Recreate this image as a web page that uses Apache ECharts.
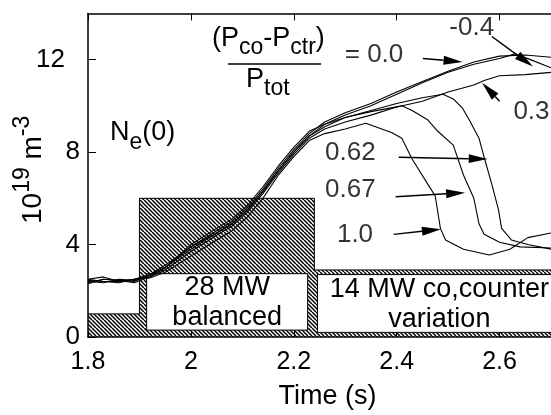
<!DOCTYPE html>
<html>
<head>
<meta charset="UTF-8">
<title>Ne(0) vs time</title>
<script src="https://cdn.jsdelivr.net/npm/echarts@6/dist/echarts.min.js"></script>
<style>
    html, body { margin: 0; padding: 0; background: #fff; }
    #chart { width: 551px; height: 415px; }
</style>
</head>
<body>
<div id="chart"></div>
<script>
    var FONT = "'Liberation Sans', Arial, Helvetica, sans-serif";

    // beam power trace (outline of the hatched area), [t, value]
    var powerStep = [[1.8, 1.0], [1.9, 1.0], [1.9, 6.0], [2.24, 6.0], [2.24, 2.9], [2.7, 2.9]];
    // white boxes inside the power trace: [t0, y0, t1, y1, text]
    var boxes = [
        [1.914, 0.3, 2.227, 2.74, '28 MW\nbalanced'],
        [2.246, 0.2, 2.72, 2.7, '14 MW co,counter\nvariation']
    ];

    // central density Ne(0), one curve per (Pco-Pctr)/Ptot
    var neM04 = [[1.80,2.3],[1.83,2.5],[1.86,2.45],[1.89,2.35],[1.92,2.6],[1.95,3.0],[2.00,3.8],[2.05,4.5],[2.08,4.9],[2.11,5.5],[2.14,6.3],[2.17,7.2],[2.20,8.0],[2.23,8.7],[2.26,9.2],[2.30,9.6],[2.35,10.0],[2.40,10.5],[2.45,11.0],[2.50,11.45],[2.55,11.8],[2.60,12.05],[2.63,12.25],[2.66,12.0],[2.70,11.65]];
    var ne00 = [[1.80,2.5],[1.83,2.6],[1.86,2.4],[1.89,2.5],[1.92,2.7],[1.95,3.1],[2.00,3.9],[2.05,4.6],[2.08,5.0],[2.11,5.6],[2.14,6.4],[2.17,7.3],[2.20,8.1],[2.23,8.8],[2.26,9.3],[2.30,9.7],[2.35,10.1],[2.40,10.6],[2.45,11.05],[2.50,11.5],[2.55,11.9],[2.60,12.15],[2.65,12.2],[2.70,12.1]];
    var ne03 = [[1.80,2.4],[1.83,2.35],[1.86,2.5],[1.89,2.45],[1.92,2.6],[1.95,2.9],[2.00,3.7],[2.05,4.4],[2.08,4.8],[2.11,5.4],[2.14,6.2],[2.17,7.1],[2.20,7.9],[2.23,8.6],[2.26,9.0],[2.30,9.3],[2.35,9.6],[2.40,9.95],[2.45,10.2],[2.50,10.6],[2.55,10.9],[2.57,11.1],[2.60,11.3],[2.65,11.35],[2.70,11.45]];
    var ne062 = [[1.80,2.45],[1.83,2.4],[1.86,2.35],[1.89,2.5],[1.92,2.65],[1.95,3.0],[2.00,3.9],[2.05,4.5],[2.08,4.9],[2.11,5.5],[2.14,6.3],[2.17,7.2],[2.20,8.0],[2.23,8.7],[2.26,9.1],[2.30,9.5],[2.35,9.8],[2.40,10.1],[2.45,10.35],[2.49,10.5],[2.51,10.3],[2.528,9.9],[2.541,9.4],[2.56,8.6],[2.571,7.7],[2.585,6.6],[2.598,5.5],[2.604,4.7],[2.623,4.2],[2.655,4.0],[2.70,3.8]];
    var ne067 = [[1.80,2.35],[1.83,2.5],[1.86,2.45],[1.89,2.4],[1.92,2.7],[1.95,3.0],[2.00,4.0],[2.05,4.7],[2.08,5.1],[2.11,5.7],[2.14,6.5],[2.17,7.4],[2.20,8.2],[2.23,8.9],[2.26,9.2],[2.30,9.5],[2.35,9.75],[2.41,10.0],[2.43,9.8],[2.46,9.4],[2.48,8.9],[2.51,8.3],[2.53,7.0],[2.55,6.0],[2.56,4.9],[2.57,4.45],[2.60,4.1],[2.64,3.9],[2.70,3.85]];
    var ne10 = [[1.80,2.5],[1.83,2.4],[1.86,2.4],[1.89,2.5],[1.92,2.55],[1.95,2.8],[2.00,3.5],[2.05,4.2],[2.08,4.6],[2.11,5.2],[2.14,6.0],[2.17,7.0],[2.20,7.8],[2.23,8.5],[2.26,8.8],[2.30,9.0],[2.34,9.25],[2.39,8.85],[2.41,8.6],[2.43,7.7],[2.465,6.45],[2.475,6.1],[2.485,4.7],[2.495,4.2],[2.53,3.8],[2.58,3.55],[2.62,3.8],[2.655,4.3],[2.70,4.5]];

    // arrows: [t0, y0, t1 (tip), y1 (tip)]
    var arrows = [
        [2.451, 12.05, 2.528, 11.9],
        [2.585, 13.0, 2.665, 11.7],
        [2.600, 10.2, 2.566, 11.0],
        [2.404, 7.78, 2.577, 7.7],
        [2.398, 6.07, 2.533, 6.24],
        [2.394, 4.44, 2.486, 4.66]
    ];
    // curve labels, centred at [t, y]
    var ratioLabels = [
        {name: '= 0.0', value: [2.356, 12.22]},
        {name: '-0.4', value: [2.546, 13.38]},
        {name: '0.3', value: [2.662, 9.74]},
        {name: '0.62', value: [2.31, 7.95]},
        {name: '0.67', value: [2.31, 6.37]},
        {name: '1.0', value: [2.319, 4.44]}
    ];

    // hatch pattern for the power trace
    var pat = document.createElement('canvas');
    pat.width = pat.height = 8;
    var g = pat.getContext('2d');
    g.strokeStyle = '#000';
    g.lineWidth = 1.5;
    for (var k = -8; k <= 8; k += 4) {
        g.beginPath(); g.moveTo(k, 0); g.lineTo(k + 8, 8); g.stroke();
    }

    var mctx = document.createElement('canvas').getContext('2d');
    function tw(s, size) { mctx.font = size + 'px ' + FONT; return mctx.measureText(s).width; }
    // lay out text runs (text, size, dy) one after another
    function runs(parts) {
        var out = [], cx = 0;
        parts.forEach(function (p) {
            out.push({
                type: 'text', x: cx, y: p[2] || 0,
                style: {text: p[0], font: p[1] + 'px ' + FONT, fill: '#000',
                    textVerticalAlign: 'middle', verticalAlign: 'middle'}
            });
            cx += tw(p[0], p[1]);
        });
        return out;
    }

    function curve(data) {
        return {type: 'line', data: data, symbol: 'none', z: 5,
            lineStyle: {color: '#000', width: 1.1}, silent: true};
    }

    var chart = echarts.init(document.getElementById('chart'));
    chart.setOption({
        animation: false,
        grid: {left: 88, right: -10, top: 13.4, bottom: 74},
        xAxis: [{
            type: 'value', min: 1.8, max: 2.7, interval: 0.2, position: 'bottom',
            name: 'Time (s)', nameLocation: 'middle', nameGap: 46,
            nameTextStyle: {fontSize: 27, color: '#000', fontFamily: FONT, padding: [0, 0, 0, 16]},
            axisLine: {lineStyle: {color: '#000', width: 1.5}},
            axisTick: {inside: true, length: 6, lineStyle: {color: '#000'}},
            axisLabel: {fontSize: 25, color: '#000', fontFamily: FONT, margin: 13, showMaxLabel: false,
                formatter: function (v) { return String(Math.round(v * 10) / 10); }},
            splitLine: {show: false}
        }, {
            type: 'value', min: 1.8, max: 2.7, interval: 0.2, position: 'top',
            axisLine: {lineStyle: {color: '#000', width: 1.5}},
            axisTick: {inside: true, length: 7, lineStyle: {color: '#000'}},
            axisLabel: {show: false},
            splitLine: {show: false}
        }],
        yAxis: {
            type: 'value', min: 0, max: 14, interval: 4,
            axisLine: {show: true, lineStyle: {color: '#000', width: 1.5}},
            axisTick: {show: true, inside: true, length: 8, lineStyle: {color: '#000'}},
            axisLabel: {fontSize: 26, color: '#000', fontFamily: FONT, margin: 8, showMaxLabel: false,
                formatter: function (v) { return v === 12 ? '{p|12}' : String(v); },
                rich: {p: {fontSize: 26, fontFamily: FONT, color: '#000', padding: [0, 15, 0, 0]}}},
            splitLine: {show: false}
        },
        series: [{
            type: 'line', data: powerStep, symbol: 'none', z: 2, silent: true,
            lineStyle: {color: '#000', width: 1},
            areaStyle: {color: {image: pat, repeat: 'repeat'}, opacity: 1}
        }, {
            type: 'custom', data: boxes, z: 3, silent: true,
            encode: {x: [0, 2], y: [1, 3]},
            renderItem: function (params, api) {
                var a = api.coord([api.value(0), api.value(3)]);
                var b = api.coord([api.value(2), api.value(1)]);
                return {type: 'group', children: [
                    {type: 'rect', shape: {x: a[0], y: a[1], width: b[0] - a[0], height: b[1] - a[1]},
                        style: {fill: '#fff', stroke: '#000', lineWidth: 1}},
                    {type: 'text', x: (a[0] + b[0]) / 2, y: (a[1] + b[1]) / 2 + 1,
                        style: {text: boxes[params.dataIndex][4], font: '27px ' + FONT, fill: '#000',
                            align: 'center', verticalAlign: 'middle', textAlign: 'center',
                            textVerticalAlign: 'middle', lineHeight: 30}}
                ]};
            }
        },
            curve(neM04), curve(ne00), curve(ne03), curve(ne062), curve(ne067), curve(ne10),
        {
            type: 'custom', data: arrows, z: 6, silent: true,
            encode: {x: [0, 2], y: [1, 3]},
            renderItem: function (params, api) {
                var p0 = api.coord([api.value(0), api.value(1)]);
                var p1 = api.coord([api.value(2), api.value(3)]);
                var dx = p1[0] - p0[0], dy = p1[1] - p0[1];
                var len = Math.sqrt(dx * dx + dy * dy), ux = dx / len, uy = dy / len;
                var hl = 19, hw = 4.5;
                var bx = p1[0] - ux * hl, by = p1[1] - uy * hl;
                return {type: 'group', children: [
                    {type: 'line', shape: {x1: p0[0], y1: p0[1], x2: bx, y2: by},
                        style: {stroke: '#000', lineWidth: 1.5}},
                    {type: 'polygon', shape: {points: [p1, [bx - uy * hw, by + ux * hw], [bx + uy * hw, by - ux * hw]]},
                        style: {fill: '#000'}}
                ]};
            }
        }, {
            type: 'scatter', data: ratioLabels, symbolSize: 1, z: 7, silent: true,
            itemStyle: {color: 'rgba(0,0,0,0)'},
            label: {show: true, position: 'inside', formatter: '{b}', color: '#000',
                fontSize: 26, fontFamily: FONT}
        }],
        graphic: [
            {type: 'group', x: 212, y: 39, children: runs([['(P', 27], ['co', 23, 9], ['-P', 27], ['ctr', 23, 9], [')', 27]])},
            {type: 'line', shape: {x1: 228, y1: 64, x2: 321, y2: 64}, style: {stroke: '#000', lineWidth: 1.5}},
            {type: 'group', x: 246, y: 80, children: runs([['P', 27], ['tot', 23, 9]])},
            {type: 'group', x: 110, y: 133, children: runs([['N', 27], ['e', 23, 10], ['(0)', 27]])},
            {type: 'group', x: 33, y: 224, rotation: Math.PI / 2,
                children: runs([['10', 28], ['19', 23, -10], [' m', 28], ['-3', 23, -10]])}
        ]
    });
</script>
</body>
</html>
